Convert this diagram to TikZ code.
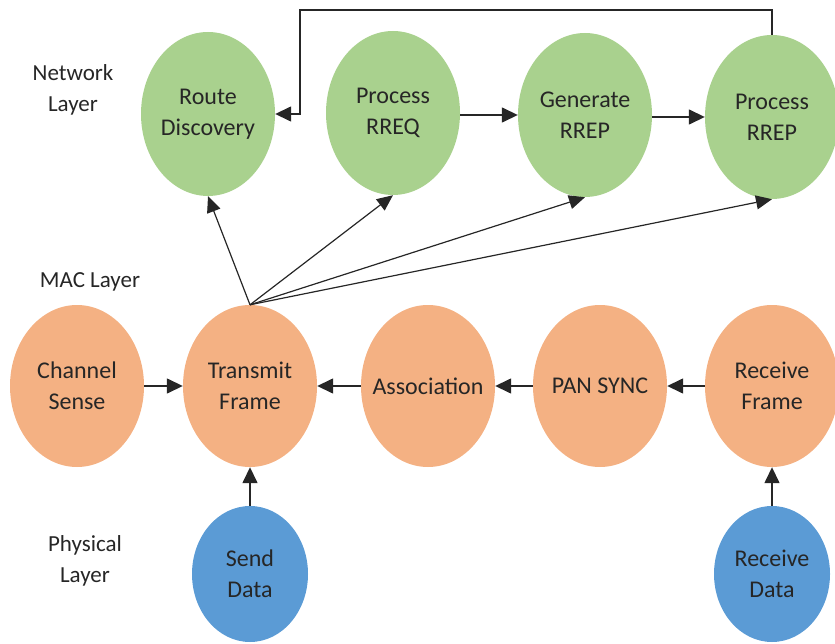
\documentclass[tikz,border=0pt]{standalone}
\usepackage{fontspec}
\setmainfont{Carlito}
\usetikzlibrary{shapes.geometric,arrows.meta}
\definecolor{netgreen}{HTML}{A9D18E}
\definecolor{macorange}{HTML}{F4B183}
\definecolor{phyblue}{HTML}{5B9BD5}
\definecolor{txt}{HTML}{262626}
\tikzset{
  blob/.style={ellipse, draw=none, inner sep=0pt, minimum width=134pt, minimum height=164pt},
  netnode/.style={blob, fill=netgreen},
  macnode/.style={blob, fill=macorange, minimum height=162pt},
  phynode/.style={blob, fill=phyblue, minimum width=116pt, minimum height=136pt},
  inside/.style={label={[align=center, text=txt, font=\fontsize{24}{31}\selectfont]center:#1}},
  layertext/.style={align=center, text=txt, font=\fontsize{23}{31}\selectfont},
  conn/.style={draw=black!85, line width=1.5pt, -{Triangle[length=16pt,width=15pt]}},
  thin conn/.style={draw=black!85, line width=1.2pt, -{Triangle[length=16pt,width=14pt]}}
}
\begin{document}
\begin{tikzpicture}[x=1pt, y=-1pt]
\useasboundingbox (0,0) rectangle (835,644);
% network layer
\node[netnode, inside={Route\\Discovery}] (rd) at (208,114) {};
\node[netnode, inside={Process\\RREQ}] (preq) at (393,113) {};
\node[netnode, inside={Generate\\RREP}] (grep) at (585,115) {};
\node[netnode, inside={Process\\RREP}] (prep) at (772,117) {};
% mac layer
\node[macnode, inside={Channel\\Sense}] (cs) at (77,386) {};
\node[macnode, inside={Transmit\\Frame}] (tf) at (250,386) {};
\node[macnode, inside={Association}] (as) at (428,386) {};
\node[macnode, inside={PAN SYNC}] (ps) at (600,386) {};
\node[macnode, inside={Receive\\Frame}] (rf) at (772,386) {};
% physical layer
\node[phynode, inside={Send\\Data}] (sd) at (250,574) {};
\node[phynode, inside={Receive\\Data}] (rdat) at (772,574) {};
% layer labels
\node[layertext] (lnet) at (73,90) {Network\\Layer};
\node[layertext] (lmac) at (90,282) {MAC Layer};
\node[layertext] (lphy) at (85,561) {Physical\\Layer};
% connectors
\coordinate (loop) at (300,10);
\draw[conn] (prep.north) |- (loop) |- (rd.east);
\draw[conn] (preq.east |- grep.west) -- (grep.west);
\draw[conn] (grep.east |- prep.west) -- (prep.west);
\draw[thin conn] (tf.north) -- (rd.south);
\draw[thin conn] (tf.north) -- (preq.south);
\draw[thin conn] (tf.north) -- (grep.south);
\draw[thin conn] (tf.north) -- (prep.south);
\draw[conn] (cs) -- (tf);
\draw[conn] (as) -- (tf);
\draw[conn] (ps) -- (as);
\draw[conn] (rf) -- (ps);
\draw[conn] (sd) -- (tf);
\draw[conn] (rdat) -- (rf);
\end{tikzpicture}
\end{document}
